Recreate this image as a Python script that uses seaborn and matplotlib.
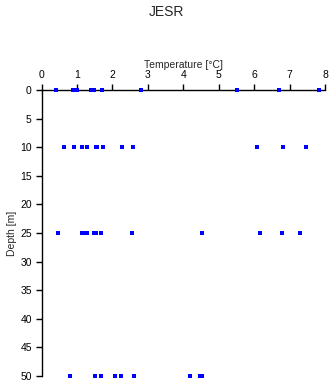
import matplotlib
matplotlib.use("Agg")
import matplotlib.pyplot as plt
import seaborn as sns
import pandas as pd

depth0 = [0.40, 0.89, 1.01, 1.39, 1.49, 1.70, 2.81, 5.51, 6.71, 7.82]
depth10 = [0.64, 0.91, 1.15, 1.29, 1.53, 1.58, 1.74, 2.27, 2.59, 6.09, 6.81, 7.47]
depth25 = [0.47, 1.15, 1.21, 1.27, 1.49, 1.54, 1.68, 2.56, 4.53, 6.16, 6.78, 7.29]
depth50 = [0.80, 1.52, 1.67, 2.08, 2.23, 2.61, 4.19, 4.47, 4.54]
depths = [0, 10, 25, 50]
temps = [depth0, depth10, depth25, depth50]
xticks = [0, 1, 2, 3, 4, 5, 6, 7, 8]
yticks = [0, 5, 10, 15, 20, 25, 30, 35, 40, 45, 50]

rows = []
for d, ts in zip(depths, temps):
    for t in ts:
        rows.append({"Temperature": t, "Depth": d})
df = pd.DataFrame(rows)

sns.set_style("white")
plt.rcParams['font.family'] = ['Liberation Sans', 'DejaVu Sans']

fig = plt.figure(figsize=(3.32, 3.84), dpi=100)
ax = fig.add_axes([41.5/332, 1-376/384, (325-41.5)/332, (376-90)/384])
sns.scatterplot(data=df, x="Temperature", y="Depth", ax=ax, marker="s",
                s=6, color="#0000ff", linewidth=0, clip_on=False, zorder=5)
ax.set_xlim(0, 8)
ax.set_ylim(50, 0)
ax.set_xticks(xticks)
ax.set_yticks(yticks)
ax.xaxis.tick_top()
ax.xaxis.set_label_position("top")
for s in ["right", "bottom"]:
    ax.spines[s].set_visible(False)
for s in ["left", "top"]:
    ax.spines[s].set_color("black")
    ax.spines[s].set_linewidth(1)
    ax.spines[s].set_zorder(1)
ax.tick_params(axis="both", direction="out", length=4, width=1, colors="black",
               labelsize=7.5, pad=3)
ax.tick_params(axis="x", top=True, bottom=False)
ax.tick_params(axis="y", left=True)
ax.set_xlabel("Temperature [°C]", fontsize=7.5, labelpad=2)
ax.set_ylabel("Depth [m]", fontsize=7.5, labelpad=2)
fig.suptitle("JESR", y=1-12/384, fontsize=10, va="center")
fig.savefig("out.png", dpi=100)
